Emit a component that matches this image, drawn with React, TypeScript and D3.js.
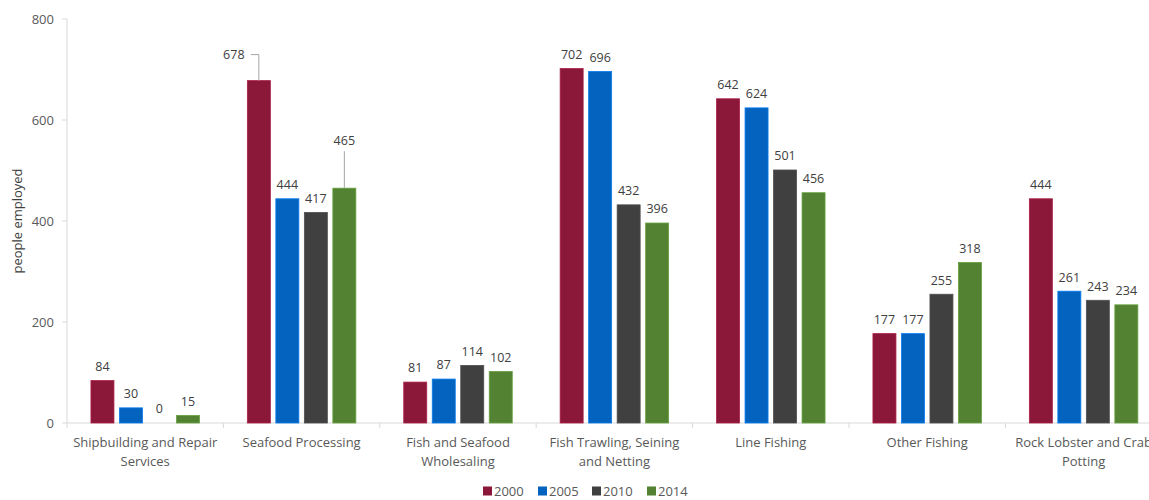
import React, { useEffect, useRef } from "react";
import * as d3 from "d3";

const categories = [
  "Shipbuilding and Repair Services",
  "Seafood Processing",
  "Fish and Seafood Wholesaling",
  "Fish Trawling, Seining and Netting",
  "Line Fishing",
  "Other Fishing",
  "Rock Lobster and Crab Potting",
];
const years = ["2000", "2005", "2010", "2014"];
const values2000 = [84, 678, 81, 702, 642, 177, 444];
const values2005 = [30, 444, 87, 696, 624, 177, 261];
const values2010 = [0, 417, 114, 432, 501, 255, 243];
const values2014 = [15, 465, 102, 396, 456, 318, 234];
const yTicks = [0, 200, 400, 600, 800];
const yTitle = "people employed";

const seriesValues = [values2000, values2005, values2010, values2014];
const colors = ["#8B1839", "#0563C0", "#404040", "#538233"];
// labels moved off their bars with a leader line (pixel offsets)
const leaderLabels: Record<string, { dx: number; dy: number }> = {
  "1-0": { dx: -25, dy: -12 },
  "1-3": { dx: 0, dy: -34 },
};

const W = 1149;
const H = 500;
const FONT = "'Open Sans', sans-serif";

function wrap(sel: any, width: number) {
  sel.each(function (this: SVGTextElement) {
    const text = d3.select(this);
    const words = text.text().split(/\s+/);
    const x = text.attr("x");
    const y = text.attr("y");
    text.text(null);
    let line: string[] = [];
    let lineNo = 0;
    let tspan = text.append("tspan").attr("x", x).attr("y", y).attr("dy", "0em");
    for (const w of words) {
      line.push(w);
      tspan.text(line.join(" "));
      if ((tspan.node() as SVGTSpanElement).getComputedTextLength() > width && line.length > 1) {
        line.pop();
        tspan.text(line.join(" "));
        line = [w];
        lineNo++;
        tspan = text
          .append("tspan")
          .attr("x", x)
          .attr("y", y)
          .attr("dy", lineNo * 19 + "px")
          .text(w);
      }
    }
  });
}

export default function App() {
  const ref = useRef<SVGSVGElement>(null);

  useEffect(() => {
    const svg = d3.select(ref.current);
    svg.selectAll("*").remove();

    const left = 67;
    const band = 156.4;
    const x0 = d3
      .scaleBand<string>()
      .domain(categories)
      .range([left, left + band * categories.length])
      .paddingInner(0)
      .paddingOuter(0);
    const x1 = d3
      .scaleBand<string>()
      .domain(years)
      .range([-54.25, 54.25])
      .paddingInner(0.193)
      .paddingOuter(0);
    const y = d3.scaleLinear().domain([0, 800]).range([423, 19]);

    const g = svg.append("g");

    // y axis
    g.append("line")
      .attr("x1", left).attr("x2", left)
      .attr("y1", y(800)).attr("y2", y(0))
      .attr("stroke", "#d9d9d9");
    yTicks.forEach((t) => {
      g.append("line")
        .attr("x1", left - 5).attr("x2", left)
        .attr("y1", y(t)).attr("y2", y(t))
        .attr("stroke", "#d9d9d9");
      g.append("text")
        .attr("x", left - 13)
        .attr("y", y(t))
        .attr("dy", "0.35em")
        .attr("text-anchor", "end")
        .attr("font-family", FONT)
        .attr("font-size", 13)
        .attr("fill", "#595959")
        .text(t);
    });
    g.append("text")
      .attr("transform", `translate(22,${(y(0) + y(800)) / 2}) rotate(-90)`)
      .attr("text-anchor", "middle")
      .attr("font-family", FONT)
      .attr("font-size", 13)
      .attr("fill", "#404040")
      .text(yTitle);

    // x axis
    g.append("line")
      .attr("x1", left).attr("x2", W)
      .attr("y1", y(0)).attr("y2", y(0))
      .attr("stroke", "#d9d9d9");
    categories.forEach((c, i) => {
      const bx = x0(c)!;
      g.append("line")
        .attr("x1", bx).attr("x2", bx)
        .attr("y1", y(0)).attr("y2", y(0) + 5)
        .attr("stroke", "#d9d9d9");
      if (i === categories.length - 1) {
        const ex = bx + band;
        g.append("line")
          .attr("x1", ex).attr("x2", ex)
          .attr("y1", y(0)).attr("y2", y(0) + 5)
          .attr("stroke", "#d9d9d9");
      }
    });
    g.selectAll(".cat")
      .data(categories)
      .enter()
      .append("text")
      .attr("x", (d) => x0(d)! + band / 2)
      .attr("y", 447)
      .attr("text-anchor", "middle")
      .attr("font-family", FONT)
      .attr("font-size", 13)
      .attr("fill", "#595959")
      .text((d) => d)
      .call(wrap, 150);

    // bars
    years.forEach((yr, si) => {
      const vals = seriesValues[si];
      categories.forEach((c, ci) => {
        const v = vals[ci];
        const cx = x0(c)! + band / 2;
        const bx = cx + x1(yr)!;
        const bw = x1.bandwidth();
        if (v > 0) {
          g.append("rect")
            .attr("x", bx)
            .attr("y", y(v))
            .attr("width", bw)
            .attr("height", y(0) - y(v))
            .attr("fill", colors[si])
            .attr("stroke", d3.color(colors[si])!.brighter(0.6).toString())
            .attr("stroke-width", 0.8);
        }
        const key = `${ci}-${si}`;
        const off = leaderLabels[key];
        const mx = bx + bw / 2;
        let lx = mx;
        let ly = y(v) - 14;
        if (off) {
          lx = mx + off.dx;
          ly = y(v) - 14 + off.dy;
          if (off.dx !== 0) {
            g.append("path")
              .attr("d", `M${lx + 17},${ly} H${mx} V${y(v)}`)
              .attr("fill", "none")
              .attr("stroke", "#a6a6a6");
          } else {
            g.append("path")
              .attr("d", `M${mx},${ly + 11} V${y(v)}`)
              .attr("fill", "none")
              .attr("stroke", "#a6a6a6");
          }
        }
        g.append("text")
          .attr("x", lx)
          .attr("y", ly)
          .attr("dy", "0.35em")
          .attr("text-anchor", "middle")
          .attr("font-family", FONT)
          .attr("font-size", 12.5)
          .attr("fill", "#404040")
          .text(v);
      });
    });

    // legend
    const legendX = [483, 538, 592, 647];
    years.forEach((yr, i) => {
      const lg = g.append("g").attr("transform", `translate(${legendX[i]},491)`);
      lg.append("rect")
        .attr("x", 0).attr("y", -4.5)
        .attr("width", 9).attr("height", 9)
        .attr("fill", colors[i]);
      lg.append("text")
        .attr("x", 11)
        .attr("y", 0)
        .attr("dy", "0.35em")
        .attr("font-family", FONT)
        .attr("font-size", 13)
        .attr("fill", "#595959")
        .text(yr);
    });
  }, []);

  return (
    <svg
      ref={ref}
      width={W}
      height={H}
      style={{ position: "absolute", left: 0, top: 0, background: "#fff" }}
    />
  );
}
